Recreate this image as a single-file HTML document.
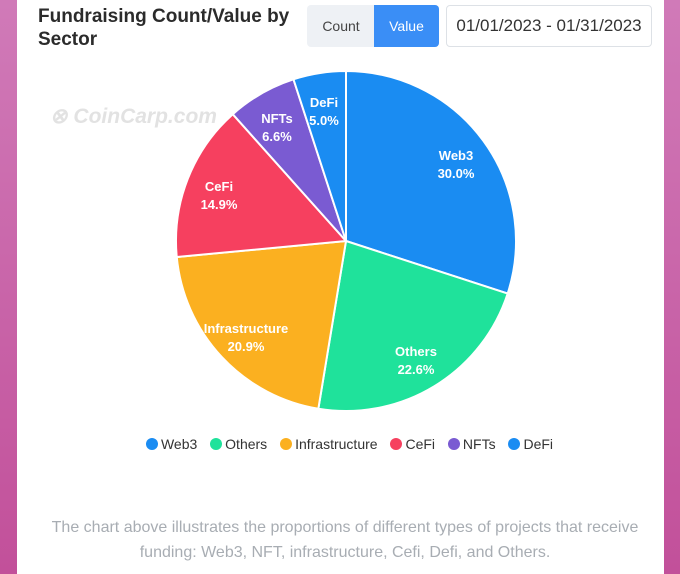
<!DOCTYPE html>
<html><head><meta charset="utf-8"><style>
body{margin:0;width:680px;height:574px;overflow:hidden;background:linear-gradient(180deg,#d07ab8,#c2509a);font-family:"Liberation Sans",sans-serif;}
.card{position:absolute;left:17px;top:0;width:647px;height:574px;background:#fff;}
.title{position:absolute;left:38px;top:5px;font-size:19px;font-weight:bold;color:#2b2b2b;line-height:23px;}
.btns{position:absolute;left:307px;top:5px;width:132px;height:42px;border-radius:4px;background:#eef1f5;overflow:hidden;}
.btns span{position:absolute;top:0;height:42px;line-height:42px;font-size:14px;}
.date{position:absolute;left:446px;top:5px;width:204px;height:40px;border:1px solid #dde1e6;border-radius:4px;font-size:17px;color:#333;line-height:40px;text-align:center;}
.wm{position:absolute;left:50px;top:104px;font-size:21px;font-weight:bold;font-style:italic;color:#e2e2e2;}
.legend{position:absolute;top:436px;left:0;width:690px;text-align:center;font-size:14px;color:#333;}
.legend i{display:inline-block;width:12px;height:12px;border-radius:50%;vertical-align:-1px;margin:0 3px 0 9px;}
.cap{position:absolute;top:515px;left:0;width:690px;text-align:center;font-size:16px;color:#a8adb3;line-height:25px;}
</style></head><body>
<div class="card"></div>
<div class="title">Fundraising Count/Value by<br>Sector</div>
<div class="btns"><span style="left:0;width:68px;text-align:center;color:#444">Count</span><span style="left:67px;width:65px;background:#3a8ef6;color:#fff;text-align:center">Value</span></div>
<div class="date">01/01/2023 - 01/31/2023</div>
<div class="wm">⊗ CoinCarp.com</div>
<svg style="position:absolute;left:0;top:0" width="680" height="574">
<g stroke="#fff" stroke-width="2">
<path d="M346,241 L346,71 A170,170 0 0 1 507.68,293.53Z" fill="#1a8cf2"/>
<path d="M346,241 L507.68,293.53 A170,170 0 0 1 318.34,408.74Z" fill="#1fe29b"/>
<path d="M346,241 L318.34,408.74 A170,170 0 0 1 176.75,257Z" fill="#fbb020"/>
<path d="M346,241 L176.75,257 A170,170 0 0 1 232.76,114.2Z" fill="#f6405f"/>
<path d="M346,241 L232.76,114.2 A170,170 0 0 1 293.47,79.31Z" fill="#7a5bd2"/>
<path d="M346,241 L293.47,79.31 A170,170 0 0 1 346,71Z" fill="#1a8cf2"/>
</g>
<g fill="#fff" font-size="13" font-weight="bold" text-anchor="middle" font-family="Liberation Sans,sans-serif">
<text x="456" y="160">Web3</text><text x="456" y="178">30.0%</text>
<text x="416" y="356">Others</text><text x="416" y="374">22.6%</text>
<text x="246" y="333">Infrastructure</text><text x="246" y="351">20.9%</text>
<text x="219" y="191">CeFi</text><text x="219" y="209">14.9%</text>
<text x="277" y="123">NFTs</text><text x="277" y="141">6.6%</text>
<text x="324" y="107">DeFi</text><text x="324" y="125">5.0%</text>
</g>
</svg>
<div class="legend"><i style="background:#1a8cf2"></i>Web3 <i style="background:#1fe29b"></i>Others <i style="background:#fbb020"></i>Infrastructure <i style="background:#f6405f"></i>CeFi <i style="background:#7a5bd2"></i>NFTs <i style="background:#1a8cf2"></i>DeFi</div>
<div class="cap">The chart above illustrates the proportions of different types of projects that receive<br>funding: Web3, NFT, infrastructure, Cefi, Defi, and Others.</div>
</body></html>
